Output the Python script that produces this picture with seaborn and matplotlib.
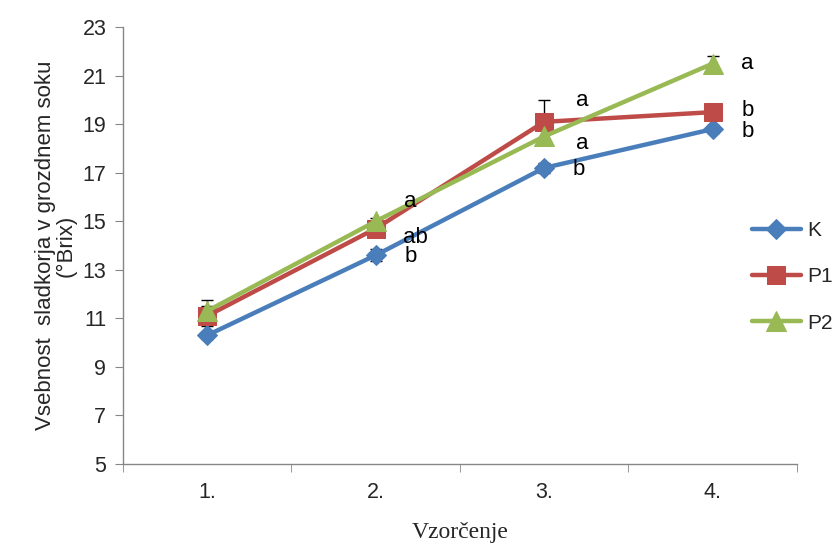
import matplotlib
matplotlib.use("Agg")
import matplotlib.pyplot as plt
import seaborn as sns
import pandas as pd
import numpy as np

categories = ["1.", "2.", "3.", "4."]
series_names = ["K", "P1", "P2"]
k_vals = [10.3, 13.6, 17.2, 18.8]
p1_vals = [11.1, 14.7, 19.1, 19.5]
p2_vals = [11.3, 15.0, 18.5, 21.5]
k_err = [0.15, 0.25, 0.2, 0.15]
p1_err = [0.4, 0.2, 0.9, 0.15]
p2_err = [0.45, 0.15, 0.25, 0.3]
k_letters = ["", "b", "b", "b"]
p1_letters = ["", "ab", "a", "b"]
p2_letters = ["", "a", "a", "a"]

colors = {"K": "#4A7EBB", "P1": "#BE4B48", "P2": "#98B954"}
markers = {"K": "D", "P1": "s", "P2": "^"}
msizes = {"K": 10, "P1": 13, "P2": 14}

vals = {"K": k_vals, "P1": p1_vals, "P2": p2_vals}
errs = {"K": k_err, "P1": p1_err, "P2": p2_err}
letters = {"K": k_letters, "P1": p1_letters, "P2": p2_letters}

rows = []
for s in series_names:
    for i, c in enumerate(categories):
        rows.append({"pos": i + 1, "value": vals[s][i], "series": s})
df = pd.DataFrame(rows)

sns.set_style("white")
plt.rcParams["font.family"] = ["Liberation Sans", "DejaVu Sans"]

fig = plt.figure(figsize=(8.37, 5.45), dpi=100)
ax = fig.add_axes([0.147, 0.149, 0.805, 0.801])

for s in series_names:
    sub = df[df.series == s]
    ax.errorbar(sub["pos"], sub["value"], yerr=errs[s], fmt="none",
                ecolor="black", elinewidth=1, capsize=4, capthick=1, zorder=1)
    sns.lineplot(data=sub, x="pos", y="value", ax=ax, color=colors[s],
                 marker=markers[s], markersize=msizes[s], markeredgecolor=colors[s],
                 linewidth=3.2, label=s, zorder=2)

# letter annotations
offsets = {
    "K": [(0, 0), (0.17, -0.05), (0.17, -0.05), (0.17, -0.1)],
    "P1": [(0, 0), (0.16, -0.35), (0.19, 0.9), (0.17, 0.05)],
    "P2": [(0, 0), (0.17, 0.8), (0.19, -0.3), (0.17, 0.0)],
}
for s in series_names:
    for i in range(4):
        t = letters[s][i]
        if t:
            dx, dy = offsets[s][i]
            ax.text(i + 1 + dx, vals[s][i] + dy, t, fontsize=16, va="center",
                    ha="left", color="black")

ax.set_xlim(0.5, 4.5)
ax.set_ylim(5, 23)
ax.set_yticks(np.arange(5, 24, 2))
ax.set_xticks([1, 2, 3, 4])
ax.set_xticklabels(categories)
ax.set_xticks([0.5, 1.5, 2.5, 3.5, 4.5], minor=True)
ax.tick_params(axis="x", which="major", length=0, labelsize=15.5, pad=13)
ax.tick_params(axis="x", which="minor", length=6, color="#868686", direction="out", bottom=True)
ax.tick_params(axis="y", length=6, color="#868686", direction="out", labelsize=15.5, left=True, pad=6)

for sp in ["top", "right"]:
    ax.spines[sp].set_visible(False)
for sp in ["left", "bottom"]:
    ax.spines[sp].set_color("#868686")
    ax.spines[sp].set_linewidth(1)

ax.set_xlabel("Vzorčenje", fontsize=17, family=["Liberation Serif", "DejaVu Serif"], labelpad=14)
ax.set_ylabel("Vsebnost  sladkorja v grozdnem soku\n(°Brix)", fontsize=16, labelpad=4,
              linespacing=1.0)

leg = ax.legend(loc="center left", bbox_to_anchor=(0.921, 0.428), frameon=False,
                fontsize=15, labelspacing=1.3, handlelength=2.35, handletextpad=0.3,
                borderaxespad=0)

fig.savefig("out.png", dpi=100)
